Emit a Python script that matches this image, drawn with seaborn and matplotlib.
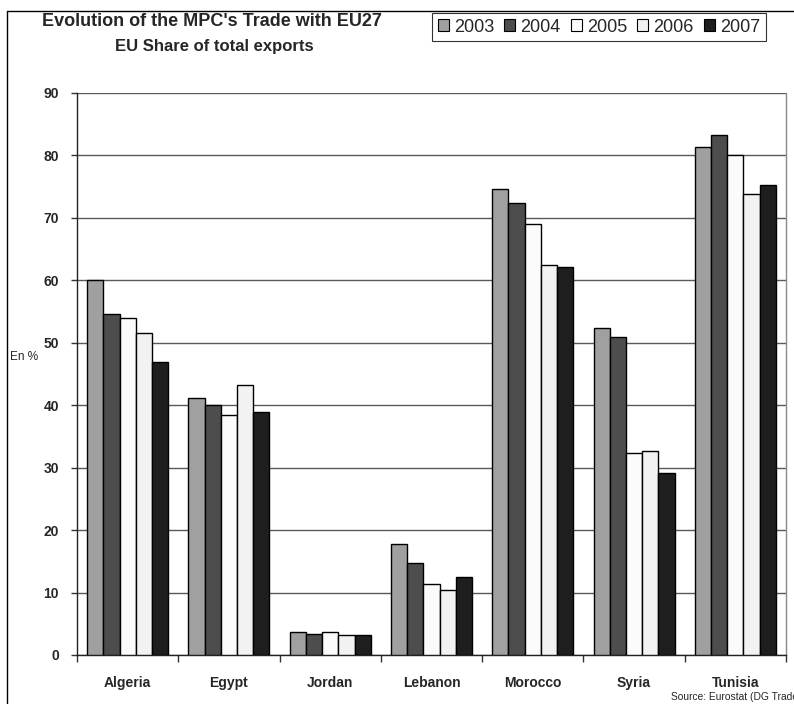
import matplotlib
matplotlib.use("Agg")
import matplotlib.pyplot as plt
from matplotlib.patches import Patch
from matplotlib.lines import Line2D
import seaborn as sns
import pandas as pd

# EU share of total exports, by partner country and year (%)
countries = ["Algeria", "Egypt", "Jordan", "Lebanon", "Morocco", "Syria", "Tunisia"]
years = ["2003", "2004", "2005", "2006", "2007"]
share_2003 = [60.0, 41.2, 3.7, 17.8, 74.6, 52.3, 81.3]
share_2004 = [54.6, 40.1, 3.4, 14.7, 72.4, 50.9, 83.2]
share_2005 = [53.9, 38.5, 3.7, 11.3, 69.0, 32.4, 80.1]
share_2006 = [51.6, 43.3, 3.2, 10.4, 62.5, 32.6, 73.9]
share_2007 = [46.9, 38.9, 3.2, 12.5, 62.1, 29.2, 75.3]
y_ticks = [0, 10, 20, 30, 40, 50, 60, 70, 80, 90]

series = [share_2003, share_2004, share_2005, share_2006, share_2007]
df = pd.DataFrame(
    [(c, yr, v) for yr, vals in zip(years, series) for c, v in zip(countries, vals)],
    columns=["country", "year", "share"],
)

fills = ["#a0a0a0", "#4d4d4d", "#fbfbfb", "#f2f2f2", "#1e1e1e"]

sns.set_theme(style="white")
plt.rcParams["font.family"] = ["Liberation Sans", "DejaVu Sans"]

fig = plt.figure(figsize=(7.94, 7.04), dpi=100)
ax = fig.add_axes([77 / 794, 1 - 655 / 704, (786 - 77) / 794, (655 - 93) / 704])

sns.barplot(
    data=df, x="country", y="share", hue="year", order=countries, hue_order=years,
    palette=fills, edgecolor="black", linewidth=1.0, width=0.8, dodge=True,
    legend=False, ax=ax, zorder=3,
)

ax.set_ylim(0, 90)
ax.set_xlim(-0.5, len(countries) - 0.5)
ax.set_yticks(y_ticks)
ax.set_yticklabels([str(t) for t in y_ticks], fontsize=10, fontweight="bold")
ax.set_xticks(range(len(countries)))
ax.set_xticklabels(countries, fontsize=10, fontweight="bold")
ax.set_xlabel("")
ax.set_ylabel("")

# gridlines every 10 points
ax.yaxis.grid(True, color="#5a5a5a", linewidth=1.0, zorder=0)
ax.set_axisbelow(True)

# tick marks: outward on y, at group boundaries on x
ax.tick_params(axis="y", which="major", left=True, length=4, width=1, color="#333333", pad=9)
ax.tick_params(axis="x", which="major", bottom=False, pad=9)
ax.set_xticks([i + 0.5 for i in range(-1, len(countries))], minor=True)
ax.tick_params(axis="x", which="minor", bottom=True, length=5, width=1, color="#333333")

for s in ["left", "bottom"]:
    ax.spines[s].set_color("#222222")
    ax.spines[s].set_linewidth(1.0)
ax.spines["top"].set_visible(False)
ax.spines["right"].set_color("#8a8a8a")
ax.spines["right"].set_linewidth(1.0)

# title
fig.text(212 / 794, 1 - 21 / 704, "Evolution of the MPC's Trade with EU27",
         ha="center", va="center", fontsize=13, fontweight="bold")
fig.text(214 / 794, 1 - 46 / 704, "EU Share of total exports",
         ha="center", va="center", fontsize=12, fontweight="bold")

# legend
handles = [Patch(facecolor=f, edgecolor="black", linewidth=0.8) for f in fills]
leg = fig.legend(
    handles, years, ncol=5, loc="center", bbox_to_anchor=(599 / 794, 1 - 27 / 704),
    frameon=True, fancybox=False, edgecolor="black", fontsize=13,
    handlelength=0.6, handleheight=0.6, handletextpad=0.3, columnspacing=0.55,
    borderpad=0.3,
)
leg.get_frame().set_linewidth(0.8)

# axis unit
fig.text(10 / 794, 1 - 357 / 704, "En %", ha="left", va="center", fontsize=8.5)

# source note
fig.text(671 / 794, 1 - 697 / 704, "Source: Eurostat (DG Trade)", ha="left",
         va="center", fontsize=7.4)

# outer frame
fig.add_artist(Line2D([7 / 794, 1.0], [1 - 11 / 704, 1 - 11 / 704],
                      transform=fig.transFigure, color="black", linewidth=1.0))
fig.add_artist(Line2D([7 / 794, 7 / 794], [0.0, 1 - 11 / 704],
                      transform=fig.transFigure, color="black", linewidth=1.0))

fig.savefig("out.png", dpi=100, facecolor="white")
